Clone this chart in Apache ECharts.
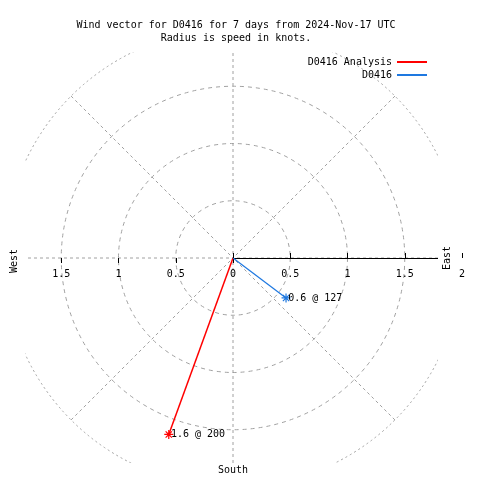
<!DOCTYPE html>
<html>
<head>
<meta charset="utf-8">
<script src="https://cdn.jsdelivr.net/npm/echarts@6/dist/echarts.min.js"></script>
<style>html,body{margin:0;padding:0;background:#fff}#c{width:480px;height:480px}</style>
</head>
<body>
<div id="c"></div>
<script>
// ---- data ----
const seriesNames = ['D0416 Analysis', 'D0416'];
const speeds = [1.64, 0.58];      // knots (labels show 1.6 and 0.6)
const directions = [200, 127];    // degrees
const radiusTicks = [0, 0.5, 1, 1.5, 2];
const titleLines = ['Wind vector for D0416 for 7 days from 2024-Nov-17 UTC', 'Radius is speed in knots.'];
const compassLabels = ['East', 'West', 'South'];

// ---- style ----
const FONT = '"DejaVu Sans Mono", "Liberation Mono", monospace';
const colors = ['#ff0000', '#1e78e0'];
const GRID = '#a0a0a0';
const C = [233, 258];
const R = 229;
const RMAX = radiusTicks[radiusTicks.length - 1];

const chart = echarts.init(document.getElementById('c'), null, {renderer: 'canvas'});

function angleAxisCfg(idx, start, extra) {
  return Object.assign({
    polarIndex: idx, type: 'value', min: 90, max: 450, interval: 45,
    startAngle: start, clockwise: true,
    axisLine: {show: false}, axisTick: {show: false}, axisLabel: {show: false},
    splitLine: {show: false}
  }, extra || {});
}
function radiusAxisCfg(idx, max, extra) {
  return Object.assign({
    polarIndex: idx, type: 'value', min: 0, max: max, interval: 0.5,
    axisLine: {show: false}, axisTick: {show: false}, axisLabel: {show: false},
    splitLine: {show: false}
  }, extra || {});
}
const tickLabelStyle = {color: '#000', fontFamily: FONT, fontSize: 10, margin: 11};

const polars = [
  {center: C, radius: R},                 // 0 main
  {center: C, radius: R * 1.5 / RMAX},     // 1 circles
  {center: C, radius: R * 1.8 / RMAX},     // 2 black east axis line
  {center: C, radius: R},                 // 3 east ticks (other side)
  {center: C, radius: R},                 // 4 west ticks + labels
  {center: C, radius: R}                  // 5 west ticks (other side)
];

const angleAxes = [
  angleAxisCfg(0, 0, {
    axisLine: {show: true, lineStyle: {color: GRID, width: 1, type: [2, 3]}},
    splitLine: {show: true, lineStyle: {color: GRID, width: 1, type: [3, 3]}}
  }),
  angleAxisCfg(1, 0),
  angleAxisCfg(2, 0),
  angleAxisCfg(3, 0),
  angleAxisCfg(4, 180),
  angleAxisCfg(5, 180)
];

const radiusAxes = [
  radiusAxisCfg(0, RMAX, {
    z: 20,
    axisTick: {show: true, inside: false, length: 5, lineStyle: {color: '#000'}},
    axisLabel: Object.assign({}, tickLabelStyle, {show: true, margin: -11, verticalAlign: 'top'})
  }),
  radiusAxisCfg(1, 1.5, {
    splitLine: {show: true, lineStyle: {color: GRID, width: 1, type: [4, 4]}}
  }),
  radiusAxisCfg(2, 1.8, {
    axisLine: {show: true, lineStyle: {color: '#000', width: 1}}
  }),
  radiusAxisCfg(3, RMAX, {
    z: 20,
    axisTick: {show: true, inside: true, length: 5, lineStyle: {color: '#000'}}
  }),
  radiusAxisCfg(4, RMAX, {
    axisTick: {show: true, length: 5, lineStyle: {color: '#000'}},
    axisLabel: Object.assign({show: true, formatter: v => (v === 0 ? '' : String(v))}, tickLabelStyle)
  }),
  radiusAxisCfg(5, RMAX, {
    axisTick: {show: true, inside: true, length: 5, lineStyle: {color: '#000'}}
  })
];

const starPath = 'path://M0,4L8,4M4,0L4,8M1.2,1.2L6.8,6.8M1.2,6.8L6.8,1.2';

const series = seriesNames.map((name, i) => ({
  name: name,
  type: 'line',
  coordinateSystem: 'polar',
  polarIndex: 0,
  animation: false,
  symbol: starPath,
  symbolSize: 9,
  lineStyle: {color: colors[i], width: i === 0 ? 1.5 : 1.2},
  itemStyle: {color: colors[i], borderColor: colors[i], borderWidth: 1.2},
  data: [
    {value: [0, directions[i]], symbol: 'none', label: {show: false}},
    {value: [speeds[i], directions[i]], label: {
      show: true, position: 'right', distance: -3,
      formatter: speeds[i].toFixed(1) + ' @ ' + directions[i],
      color: '#000', fontFamily: FONT, fontSize: 10
    }}
  ]
}));

// white masks clip the grid to the plot rectangle
const L = 25, Rt = 438, T = 52, B = 463;
const masks = [
  [0, 0, L, 480], [Rt, 0, 480 - Rt, 480], [0, 0, 480, T], [0, B, 480, 480 - B]
].map(r => ({type: 'rect', shape: {x: r[0], y: r[1], width: r[2], height: r[3]},
  style: {fill: '#fff'}, z: 10, silent: true}));

function label(text, x, y, rot) {
  return {type: 'text', x: x, y: y, rotation: rot, z: 30,
    style: {text: text, font: '10px ' + FONT, fill: '#000',
      align: 'center', verticalAlign: 'middle', textAlign: 'center', textVerticalAlign: 'middle'}};
}

chart.setOption({
  animation: false,
  title: {
    text: titleLines.join('\n'),
    left: 231, top: 14, textAlign: 'center', z: 30,
    textStyle: {fontFamily: FONT, fontSize: 10, fontWeight: 'normal', color: '#000', lineHeight: 13}
  },
  legend: {
    data: seriesNames, orient: 'vertical', right: 53, top: 56, align: 'right',
    padding: 0, itemGap: 1, itemWidth: 30, itemHeight: 2, icon: 'rect', z: 30,
    itemStyle: {borderWidth: 0},
    textStyle: {fontFamily: FONT, fontSize: 10, color: '#000', lineHeight: 12}
  },
  polar: polars,
  angleAxis: angleAxes,
  radiusAxis: radiusAxes,
  series: series,
  graphic: {elements: masks.concat([
    label(compassLabels[0], 447, 258, Math.PI / 2),
    label(compassLabels[1], 14, 261, Math.PI / 2),
    label(compassLabels[2], 233, 470, 0)
  ])}
});
</script>
</body>
</html>
